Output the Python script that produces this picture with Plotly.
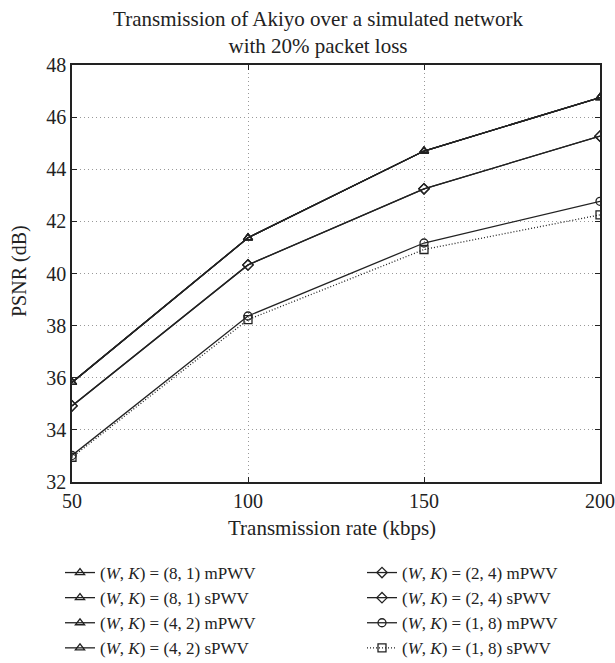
import plotly.graph_objects as go

rates = [50, 100, 150, 200]
tri_vals = [35.82, 41.37, 44.7, 46.75]
dia_vals = [34.92, 40.33, 43.25, 45.27]
circ_vals = [33.02, 38.37, 41.17, 42.77]
sq_vals = [32.95, 38.23, 40.92, 42.25]

series = [
    ("(<i>W</i>, <i>K</i>) = (8, 1) mPWV", tri_vals, "triangle-up-open", "solid", "legend"),
    ("(<i>W</i>, <i>K</i>) = (8, 1) sPWV", tri_vals, "triangle-up-open", "solid", "legend"),
    ("(<i>W</i>, <i>K</i>) = (4, 2) mPWV", tri_vals, "triangle-up-open", "solid", "legend"),
    ("(<i>W</i>, <i>K</i>) = (4, 2) sPWV", tri_vals, "triangle-up-open", "solid", "legend"),
    ("(<i>W</i>, <i>K</i>) = (2, 4) mPWV", dia_vals, "diamond-open", "solid", "legend2"),
    ("(<i>W</i>, <i>K</i>) = (2, 4) sPWV", dia_vals, "diamond-open", "solid", "legend2"),
    ("(<i>W</i>, <i>K</i>) = (1, 8) mPWV", circ_vals, "circle-open", "solid", "legend2"),
    ("(<i>W</i>, <i>K</i>) = (1, 8) sPWV", sq_vals, "square-open", "1px,2px", "legend2"),
]

font_family = "Liberation Serif"
ink = "#222222"
fig = go.Figure()
for name, vals, sym, dash, lg in series:
    fig.add_trace(go.Scatter(
        x=rates, y=vals, name=name, mode="lines+markers",
        line=dict(color=ink, width=1.3, dash=dash),
        marker=dict(symbol=sym, size=8, color=ink, line=dict(width=1.3, color=ink)),
        legend=lg,
    ))

legend_common = dict(
    xref="container", yref="container", yanchor="top", xanchor="left",
    font=dict(family=font_family, size=17, color=ink),
    bgcolor="rgba(0,0,0,0)", tracegroupgap=0, itemwidth=30,
)

axis_common = dict(
    showgrid=True, gridcolor="#999999", griddash="1px,3px", gridwidth=1,
    ticks="inside", ticklen=5, tickcolor=ink,
    showline=True, linecolor=ink, linewidth=1.5, mirror="ticks",
    zeroline=False,
    tickfont=dict(family=font_family, size=20, color=ink),
)

fig.update_layout(
    width=615, height=663,
    margin=dict(l=72, r=15, t=65, b=181, autoexpand=False),
    paper_bgcolor="white", plot_bgcolor="white",
    font=dict(family=font_family, size=16, color=ink),
    title=dict(text="Transmission of Akiyo over a simulated network<br>with 20% packet loss",
               x=318/615, xanchor="center", xref="container", yref="container",
               y=1 - 26/663, yanchor="middle",
               font=dict(family=font_family, size=21, color=ink)),
    showlegend=True,
    legend=dict(x=60/615, y=1-555/663, **legend_common),
    legend2=dict(x=362/615, y=1-555/663, **legend_common),
    xaxis=dict(range=[50, 200], tickvals=[50, 100, 150, 200], **axis_common),
    yaxis=dict(range=[32, 48], tickvals=list(range(32, 49, 2)), **axis_common),
    annotations=[
        dict(text="Transmission rate (kbps)", xref="paper", yref="paper",
             x=(332 - 72) / 528, y=(482 - 528) / 417, xanchor="center", yanchor="middle",
             showarrow=False, font=dict(family=font_family, size=21, color=ink)),
        dict(text="PSNR (dB)", xref="paper", yref="paper",
             x=(19 - 72) / 528, y=(482 - 271) / 417, xanchor="center", yanchor="middle",
             textangle=-90, showarrow=False,
             font=dict(family=font_family, size=20, color=ink)),
    ],
)

fig.write_html("out.html")
